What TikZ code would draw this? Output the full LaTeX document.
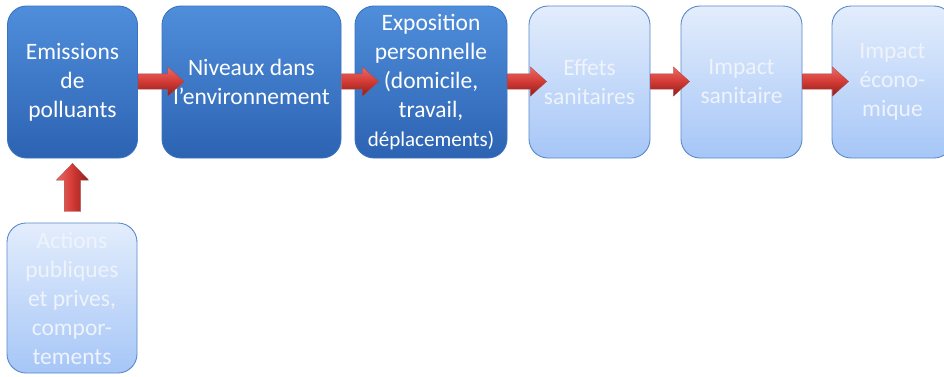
\documentclass[tikz,border=0pt]{standalone}
\usepackage{fontspec}
\setmainfont{Carlito}
\usetikzlibrary{shapes.arrows}
\definecolor{darktop}{HTML}{4F8EDB}
\definecolor{darkbot}{HTML}{2C63B2}
\definecolor{darkrim}{HTML}{3A73C2}
\definecolor{lighttop}{HTML}{E3EDFC}
\definecolor{lightbot}{HTML}{A6C6F7}
\definecolor{lightrim}{HTML}{5B89C9}
\definecolor{paletext}{HTML}{EEF3FC}
\definecolor{redtop}{HTML}{EE6A66}
\definecolor{redmid}{HTML}{D23A34}
\definecolor{redbot}{HTML}{8E1C1A}
\tikzset{
  stage/.style={rectangle, rounded corners=19pt, line width=0.9pt, inner sep=0pt,
    align=center, font=\fontsize{23.5}{29}\selectfont},
  activebox/.style={stage, draw=darkrim, top color=darktop, bottom color=darkbot, text=white},
  pendingbox/.style={stage, draw=lightrim, top color=lighttop, bottom color=lightbot, text=paletext},
  flow/.style={single arrow, inner sep=0pt, minimum width=29pt, single arrow head extend=7pt,
    single arrow tip angle=84, anchor=tail, draw=redbot!80, line width=0.3pt,
    top color=redtop, bottom color=redbot, middle color=redmid},
  lift/.style={single arrow, inner sep=0pt, minimum width=32pt, single arrow head extend=8pt,
    single arrow tip angle=88, anchor=tail, shape border rotate=90, draw=redbot!80, line width=0.3pt,
    left color=redtop, right color=redbot, middle color=redmid},
}
\begin{document}
\begin{tikzpicture}[x=1pt, y=-1pt]
\useasboundingbox (0,0) rectangle (944,376);
\fill[white] (0,0) rectangle (944,376);

% main chain of stages
\node[activebox, minimum width=130pt, minimum height=152pt] (emis) at (72.5,82)
  {Emissions\\de\\polluants};
\node[activebox, minimum width=179pt, minimum height=152pt] (niv) at (251.5,82)
  {Niveaux dans\\l’environnement};
\node[activebox, minimum width=152pt, minimum height=152pt] (expo) at (431,82)
  {Exposition\\personnelle\\(domicile,\\travail,\\{\fontsize{21}{29}\selectfont déplacements)}};
\node[pendingbox, minimum width=121pt, minimum height=152pt] (eff) at (589.5,82)
  {Effets\\sanitaires};
\node[pendingbox, minimum width=121pt, minimum height=152pt] (imps) at (741.5,82)
  {Impact\\sanitaire};
\node[pendingbox, minimum width=121pt, minimum height=152pt] (impe) at (892.5,82)
  {Impact\\écono-\\mique};

% driver box below the first stage
\node[pendingbox, minimum width=130pt, minimum height=150pt] (act) at (72,298)
  {Actions\\publiques\\et prives,\\compor-\\tements};

% block arrows between stages
\node[flow, minimum height=46pt, inner ysep=7.5pt] (a1) at ([yshift=0.5pt]emis.east) {};
\node[flow, minimum height=37pt, inner ysep=7.5pt] (a2) at ([yshift=0.5pt]niv.east) {};
\node[flow, minimum height=39pt, inner ysep=7.5pt] (a3) at ([yshift=0.5pt]expo.east) {};
\node[flow, minimum height=39pt, inner ysep=7.5pt] (a4) at ([yshift=0.5pt]eff.east) {};
\node[flow, minimum height=46pt, inner ysep=7.5pt] (a5) at ([yshift=0.5pt]imps.east) {};

% upward arrow from the driver box
\node[lift, minimum height=48pt, inner xsep=8pt] (up) at ([shift={(0.5,-11)}]act.north) {};
\end{tikzpicture}
\end{document}
